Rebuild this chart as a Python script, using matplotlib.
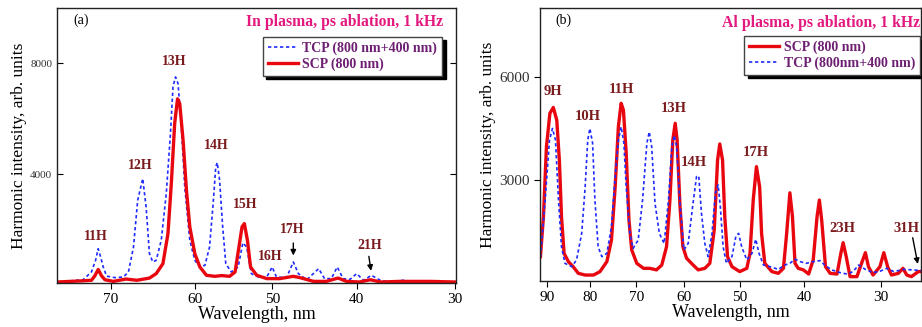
import numpy as np
import matplotlib
matplotlib.use("Agg")
import matplotlib.pyplot as plt
from matplotlib.scale import FuncScale

plt.rcParams["font.family"] = ["Liberation Serif", "DejaVu Serif"]

# ---- panel (a): In plasma ----
a_scp_wl = [76.3, 73.3, 72.3, 71.9, 71.5, 71.1, 70.7, 69.7, 68.2, 66.9, 65.4, 64.6, 63.8, 63.2,
            62.8, 62.4, 62.06, 61.8, 61.4, 61.0, 60.6, 60.0, 59.35, 58.5, 57.4, 56.55, 55.5,
            54.8, 54.3, 53.9, 53.6, 53.2, 52.8, 52.0, 50.7, 49.1, 47.5, 46.7, 45.1, 43.6, 42.2,
            41.2, 39.7, 38.6, 37.6, 35.6, 32.5, 30.0]
a_scp_int = [110, 150, 170, 330, 560, 330, 190, 130, 215, 170, 250, 410, 770, 1850,
             3660, 5830, 6720, 6550, 5225, 3420, 2095, 1130, 650, 350, 313, 340, 313,
             470, 1370, 2100, 2215, 1610, 650, 350, 230, 230, 313, 265, 130, 130, 250,
             130, 108, 190, 108, 130, 130, 108]

a_tcp_wl = [76.3, 73.3, 72.3, 71.8, 71.5, 71.2, 70.9, 70.5, 69.5, 68.5, 67.9, 67.3, 66.8, 66.2,
            65.8, 65.4, 65.0, 64.6, 64.0, 63.4, 62.9, 62.6, 62.3, 62.0, 61.6, 61.2, 60.6,
            60.0, 59.35, 58.7, 58.1, 57.6, 57.3, 57.1, 56.8, 56.4, 56.0, 55.3, 54.4, 53.8,
            53.3, 52.7, 51.8, 50.7, 50.0, 49.5, 48.3, 47.5, 46.9, 45.9, 44.5, 43.8, 43.0,
            42.3, 41.6, 40.8, 40.0, 39.3, 38.5, 37.6, 36.6, 35.3, 33.9, 32.2, 30.0]
a_tcp_int = [108, 190, 470, 900, 1310, 1000, 650, 320, 265, 290, 470, 1370, 3060, 3840,
             2820, 1130, 830, 890, 1610, 3300, 5470, 7150, 7510, 7270, 5710, 3540, 1610,
             890, 650, 710, 1370, 3060, 4260, 4420, 3780, 2095, 770, 470, 650, 1520,
             1370, 410, 290, 290, 650, 290, 265, 830, 410, 190, 590, 230, 230,
             650, 230, 200, 410, 170, 350, 170, 108, 170, 108, 108, 90]

# ---- panel (b): Al plasma ----
b_scp_wl = [91.6, 90.9, 90.2, 89.4, 88.6, 87.8, 87.2, 86.7, 86.1, 85.1, 84.0, 82.8, 81.2, 79.3,
            77.9, 76.4, 75.4, 74.6, 73.9, 73.3, 72.8, 72.2, 71.6, 71.0, 69.9, 68.5, 67.2,
            65.8, 64.7, 63.7, 63.0, 62.4, 61.9, 61.5, 60.9, 60.3, 59.6, 58.4, 57.5, 56.3,
            55.4, 54.6, 54.0, 53.6, 53.1, 52.7, 52.2, 51.4, 50.0, 48.9, 48.4, 47.9, 47.4,
            46.9, 46.6, 46.1, 45.0, 44.0, 43.2, 42.7, 42.2, 41.8, 41.4, 40.9, 40.1, 39.4,
            38.8, 38.3, 38.0, 37.7, 37.2, 36.6, 35.7, 35.2, 34.9, 34.5, 34.0, 33.1, 32.5,
            32.0, 31.6, 31.0, 30.1, 29.6, 29.1, 28.6, 27.7, 27.1, 26.6, 26.0, 25.1, 24.6]
b_scp_int = [774, 1936, 3970, 4940, 5110, 4740, 3580, 1936, 870, 630, 484, 290, 240, 240,
             340, 630, 1260, 2800, 4550, 5230, 5030, 3780, 1840, 970, 580, 435, 435,
             390, 530, 1065, 2420, 4160, 4650, 4160, 2230, 1065, 730, 530, 390, 435,
             580, 1550, 3580, 4050, 3580, 1940, 775, 484, 340, 435, 870, 2420, 3390,
             2800, 1450, 580, 340, 290, 435, 1450, 2630, 1940, 580, 435, 390, 270,
             680, 1940, 2420, 1840, 484, 290, 270, 870, 1180, 775, 194, 194, 580,
             890, 484, 240, 484, 890, 484, 240, 290, 435, 240, 194, 340, 340]

b_tcp_wl = [91.6, 90.5, 89.5, 88.8, 88.1, 87.4, 86.7, 85.9, 84.3, 83.2, 82.0, 81.2, 80.6, 80.1,
            79.5, 79.0, 78.3, 77.5, 76.4, 75.4, 74.6, 73.9, 73.3, 72.7, 72.2, 71.4, 70.7,
            69.6, 68.7, 67.8, 67.3, 66.8, 66.1, 65.2, 64.2, 63.3, 62.6, 62.1, 61.6, 60.9,
            60.1, 59.3, 58.5, 57.8, 57.4, 56.9, 56.3, 55.7, 55.0, 54.4, 53.9, 53.5, 53.0,
            52.4, 51.4, 50.7, 50.2, 49.7, 48.9, 48.1, 47.5, 47.0, 46.3, 45.3, 44.0, 43.0,
            42.2, 41.4, 40.6, 39.7, 38.8, 37.9, 37.3, 36.4, 35.3, 34.4, 33.6, 32.9, 32.0,
            31.0, 30.1, 29.2, 28.3, 27.0, 25.9, 24.6]
b_tcp_int = [775, 2420, 4160, 4500, 4160, 2420, 1065, 580, 484, 680, 1450, 2800, 4160, 4500,
             4070, 2420, 1065, 775, 870, 1650, 3100, 4160, 4550, 4070, 2800, 1450, 1015,
             1260, 2420, 4070, 4400, 3970, 2320, 1450, 1160, 2420, 3970, 4300, 3970, 2320,
             970, 1160, 2230, 3100, 3120, 2030, 1160, 775, 1450, 2610, 2860, 2230, 1065,
             580, 775, 1360, 1450, 1065, 680, 870, 1280, 870, 530, 484, 405, 530,
             580, 700, 630, 580, 630, 660, 530, 390, 310, 270, 340, 530, 405,
             310, 350, 435, 340, 405, 390, 370]

a_ticks_x = [70, 60, 50, 40, 30]
b_ticks_x = [90, 80, 70, 60, 50, 40, 30]

a_labels = ["11H", "12H", "13H", "14H", "15H", "16H", "17H", "21H"]
a_label_wl = [71.8, 66.5, 62.5, 57.2, 53.5, 50.3, 47.6, 38.7]
a_label_int = [1760, 4325, 8057, 5047, 2916, 1012, 2000, 1424]

b_labels = ["9H", "10H", "11H", "13H", "14H", "17H", "23H"]
b_label_wl = [88.6, 80.7, 73.3, 62.2, 58.2, 47.5, 35.0]
b_label_int = [5564, 4838, 5634, 5082, 3502, 3793, 1597]

# spectrometer wavelength axes are not linear: tick spacing measured from the figure
a_axis_pos = [111, 195, 272.3, 356.7, 455]
b_axis_pos = [547.3, 590.3, 636.3, 684.3, 739.7, 804, 880.7]


def knot_scale(wl, pos):
    w = np.asarray(wl, float)[::-1]
    p = np.asarray(pos, float)[::-1]

    def lin(x, xs, ys):
        x = np.asarray(x, float)
        y = np.interp(x, xs, ys)
        y = np.where(x < xs[0], ys[0] + (x - xs[0]) * (ys[1] - ys[0]) / (xs[1] - xs[0]), y)
        y = np.where(x > xs[-1], ys[-1] + (x - xs[-1]) * (ys[-1] - ys[-2]) / (xs[-1] - xs[-2]), y)
        return y

    # forward returns -pixel so it increases with wavelength
    fwd = lambda x: -lin(x, w, p)
    inv = lambda y: lin(-np.asarray(y, float), p[::-1], w[::-1])
    return fwd, inv


RED = "#e8070f"
BLUE = "#1f2bff"
LABEL = "#7a1b1e"
TITLE = "#e3197f"
LEGTXT = "#6d1f72"

fig = plt.figure(figsize=(9.22, 3.27), dpi=100)
ax1 = fig.add_axes([57 / 922, 44 / 327, 399 / 922, 275 / 327])
ax2 = fig.add_axes([540 / 922, 46 / 327, 381 / 922, 273 / 327])

# ----- (a)
ax1.set_xscale(FuncScale(ax1, knot_scale(a_ticks_x, a_axis_pos)))
l_tcp, = ax1.plot(a_tcp_wl, a_tcp_int, color=BLUE, lw=1.2, ls=(0, (2, 1.6)))
l_scp, = ax1.plot(a_scp_wl, a_scp_int, color=RED, lw=2.4, solid_joinstyle="round")
ax1.set_xlim(76.4, 29.9)
ax1.set_ylim(72, 10000)
ax1.set_xticks(a_ticks_x)
ax1.set_xticklabels([str(t) for t in a_ticks_x])
ax1.set_yticks([4000, 8000])
ax1.tick_params(axis="x", direction="out", labelsize=11, length=4)
ax1.tick_params(axis="y", direction="in", labelsize=8, length=4, right=True, labelcolor="#333333")
ax1.xaxis.set_minor_locator(plt.NullLocator())
ax1.set_xlabel("Wavelength, nm", fontsize=13, labelpad=0)
ax1.set_ylabel("Harmonic intensity, arb. units", fontsize=12.5, labelpad=2)
ax1.text(0.04, 0.955, "(a)", transform=ax1.transAxes, fontsize=10, va="center", ha="left")
ax1.text(0.968, 0.95, "In plasma, ps ablation, 1 kHz", transform=ax1.transAxes, fontsize=11.3,
         color=TITLE, fontweight="bold", ha="right", va="center")
leg1 = ax1.legend([l_tcp, l_scp], ["TCP (800 nm+400 nm)", "SCP (800 nm)"], loc="upper right",
                  bbox_to_anchor=(0.965, 0.895), borderaxespad=0, fancybox=False,
                  shadow={"ox": 2.5, "oy": -2.5, "shade": 1, "alpha": 1},
                  prop={"weight": "bold", "size": 10}, handlelength=2.2, handletextpad=0.3,
                  labelspacing=0.15, borderpad=0.35, framealpha=1)
leg1.get_frame().set_edgecolor("#444444")
for t in leg1.get_texts():
    t.set_color(LEGTXT)

for s, x, y in zip(a_labels, a_label_wl, a_label_int):
    ax1.text(x, y, s, color=LABEL, fontweight="bold", fontsize=10, ha="center", va="center")
ax1.annotate("", xy=(47.5, 965), xytext=(47.5, 1615),
             arrowprops=dict(arrowstyle="-|>", color="black", lw=1, mutation_scale=8))
ax1.annotate("", xy=(38.5, 412), xytext=(38.8, 1134),
             arrowprops=dict(arrowstyle="-|>", color="black", lw=1, mutation_scale=8))

# ----- (b)
ax2.set_xscale(FuncScale(ax2, knot_scale(b_ticks_x, b_axis_pos)))
m_scp, = ax2.plot(b_scp_wl, b_scp_int, color=RED, lw=2.4, solid_joinstyle="round")
m_tcp, = ax2.plot(b_tcp_wl, b_tcp_int, color=BLUE, lw=1.2, ls=(0, (2, 1.6)))
ax2.set_xlim(91.7, 24.75)
ax2.set_ylim(67, 8000)
ax2.set_xticks(b_ticks_x)
ax2.set_xticklabels([str(t) for t in b_ticks_x])
ax2.set_yticks([3000, 6000])
ax2.xaxis.set_minor_locator(plt.NullLocator())
ax2.tick_params(axis="x", direction="out", labelsize=11, length=4)
ax2.tick_params(axis="y", direction="out", labelsize=11, length=4, labelcolor="#333333")
ax2.set_xlabel("Wavelength, nm", fontsize=13, labelpad=0)
ax2.set_ylabel("Harmonic intensity, arb. units", fontsize=12.5, labelpad=2)
ax2.text(0.04, 0.955, "(b)", transform=ax2.transAxes, fontsize=10, va="center", ha="left")
ax2.text(0.997, 0.945, "Al plasma, ps ablation, 1 kHz", transform=ax2.transAxes, fontsize=11.3,
         color=TITLE, fontweight="bold", ha="right", va="center")
leg2 = ax2.legend([m_scp, m_tcp], ["SCP (800 nm)", "TCP (800nm+400 nm)"], loc="upper right",
                  bbox_to_anchor=(0.997, 0.897), borderaxespad=0, fancybox=False,
                  shadow={"ox": 2.5, "oy": -2.5, "shade": 1, "alpha": 1},
                  prop={"weight": "bold", "size": 10}, handlelength=2.2, handletextpad=0.3,
                  labelspacing=0.15, borderpad=0.35, framealpha=1)
leg2.get_frame().set_edgecolor("#444444")
for t in leg2.get_texts():
    t.set_color(LEGTXT)

for s, x, y in zip(b_labels, b_label_wl, b_label_int):
    ax2.text(x, y, s, color=LABEL, fontweight="bold", fontsize=10.5, ha="center", va="center")
# last label sits against the right edge of the frame
ax2.text(0.995, 1597, "31H", transform=ax2.get_yaxis_transform(), color=LABEL,
         fontweight="bold", fontsize=10.5, ha="right", va="center")
ax2.annotate("", xy=(25.1, 482), xytext=(25.9, 1403),
             arrowprops=dict(arrowstyle="-|>", color="black", lw=1, mutation_scale=8))

for ax in (ax1, ax2):
    for sp in ax.spines.values():
        sp.set_linewidth(1.0)
        sp.set_color("#222222")

fig.savefig("out.png", dpi=100)
